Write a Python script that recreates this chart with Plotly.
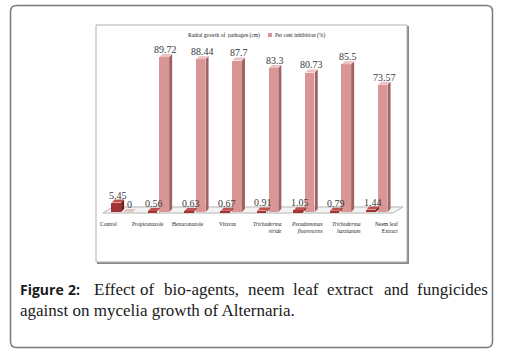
import plotly.graph_objects as go

# ---------------- data ----------------
categories = ["Control", "Propiconazole", "Hexaconazole", "Vitavax",
              "<i>Trichoderma</i><br><i>viride</i>",
              "<i>Pseudomonas</i><br><i>fluorescens</i>",
              "<i>Trichoderma</i><br><i>harzianum</i>",
              "Neem leaf<br>Extract"]
radial_growth = [5.45, 0.56, 0.63, 0.67, 0.91, 1.05, 0.79, 1.44]
inhibition = [0, 89.72, 88.44, 87.7, 83.3, 80.73, 85.5, 73.57]
series_names = ["Radial growth of&nbsp; pathogen (cm)", "Per cent inhibition (%)"]

W, H = 505, 354
def xp(px): return px / W
def yp(py): return 1 - py / H

# axis geometry (pixel <-> data)
X0PX, XUNIT = 122.2, 36.4          # px of category 0, px per category
Y0PX, YUNIT = 212.0, 1.728         # px of value 0, px per unit
xr = [-0.6, 7.8]
yr = [-3, 99]
xdom = [xp(X0PX + XUNIT * xr[0]), xp(X0PX + XUNIT * xr[1])]
ydom = [yp(Y0PX - YUNIT * yr[0]), yp(Y0PX - YUNIT * yr[1])]

n = len(categories)
bw = 0.26          # bar width (category units)
off = 0.16         # offset of each series from category centre
dx = 3 / XUNIT     # 3-D depth in x
dy = 3 / YUNIT     # 3-D depth in y

styles = [
    dict(front="#a23533", side="#6f1f1d", top="#c0504d"),
    dict(front="#d99694", side="#9f6361", top="#ebc3c2"),
]
series = [radial_growth, inhibition]
offsets = [-off, off]

fig = go.Figure()

for s, (vals, o, st) in enumerate(zip(series, offsets, styles)):
    xs = [i + o for i in range(n)]
    fig.add_trace(go.Bar(x=xs, y=vals, width=bw, marker=dict(color=st["front"], line=dict(width=0)),
                         name=series_names[s], showlegend=False, hoverinfo="skip"))
    sx, sy, tx, ty = [], [], [], []
    for x, v in zip(xs, vals):
        r = x + bw / 2
        l = x - bw / 2
        sx += [r, r + dx, r + dx, r, r, None]
        sy += [0, dy, v + dy, v, 0, None]
        tx += [l, r, r + dx, l + dx, l, None]
        ty += [v, v, v + dy, v + dy, v, None]
    fig.add_trace(go.Scatter(x=sx, y=sy, mode="lines", fill="toself", fillcolor=st["side"],
                             line=dict(width=0), showlegend=False, hoverinfo="skip"))
    fig.add_trace(go.Scatter(x=tx, y=ty, mode="lines", fill="toself", fillcolor=st["top"],
                             line=dict(width=0), showlegend=False, hoverinfo="skip"))

# floor (3-D base)
fl, fr = -0.53, n - 0.56
fshift, fback = 0.27, 2.9
fig.add_shape(type="path", xref="x", yref="y", layer="below",
              path=f"M{fl},-0.6 L{fr},-0.6 L{fr + fshift},{fback} L{fl + fshift},{fback} Z",
              fillcolor="#f3f3f3", line=dict(color="#b5b5b5", width=1))

annotations = []
# value labels
for vals, o in zip(series, offsets):
    for i, v in enumerate(vals):
        annotations.append(dict(x=i + o + dx / 2, y=v + dy, xref="x", yref="y",
                                text=f"{v:g}", showarrow=False, yanchor="bottom",
                                yshift=-3, font=dict(family="Liberation Serif", size=10, color="#3a3a3a")))

# category labels with perspective spread
for i, c in enumerate(categories):
    shift = (-14 + 3.3 * i) / XUNIT
    annotations.append(dict(x=i + shift, y=yp(219), xref="x", yref="paper", text=c,
                            showarrow=False, yanchor="top", align="right",
                            font=dict(family="Liberation Serif", size=5.5, color="#222")))

# legend (manual)
leg = [(181, styles[0]["front"], series_names[0]), (268, styles[1]["front"], series_names[1])]
shapes = []
for px, col, name in leg:
    shapes.append(dict(type="rect", xref="paper", yref="paper", x0=xp(px), x1=xp(px + 4),
                       y0=yp(37), y1=yp(33), fillcolor=col, line=dict(width=0)))
    annotations.append(dict(x=xp(px + 5), y=yp(35), xref="paper", yref="paper", text=name,
                            showarrow=False, xanchor="left", yanchor="middle",
                            font=dict(family="Liberation Serif", size=5.5, color="#222")))

# inner chart frame with shadow
shapes.append(dict(type="rect", xref="paper", yref="paper", x0=xp(97), x1=xp(409), y0=yp(264), y1=yp(26),
                   fillcolor="#8a8a8a", line=dict(width=0), layer="below"))
shapes.append(dict(type="rect", xref="paper", yref="paper", x0=xp(96), x1=xp(407), y0=yp(262), y1=yp(25),
                   fillcolor="white", line=dict(color="#b0b0b0", width=1), layer="below"))

# outer rounded frame
L, T, R, B, rr = 10.5, 5.5, 492.5, 347.5, 6
path = (f"M{xp(L + rr)},{yp(T)} L{xp(R - rr)},{yp(T)} Q{xp(R)},{yp(T)} {xp(R)},{yp(T + rr)} "
        f"L{xp(R)},{yp(B - rr)} Q{xp(R)},{yp(B)} {xp(R - rr)},{yp(B)} "
        f"L{xp(L + rr)},{yp(B)} Q{xp(L)},{yp(B)} {xp(L)},{yp(B - rr)} "
        f"L{xp(L)},{yp(T + rr)} Q{xp(L)},{yp(T)} {xp(L + rr)},{yp(T)} Z")
shapes.append(dict(type="path", xref="paper", yref="paper", path=path,
                   line=dict(color="#7a7a7a", width=1.5), layer="below"))

# caption (justified first line)
cap_font = dict(family="Liberation Serif", size=17, color="#1a1a1a")
line1 = [(18, "<b>Figure</b>", True), (66, "<b>2:</b>", True), (92, "Effect", False), (138, "of", False),
         (162, "bio-agents,", False), (246, "neem", False), (291, "leaf", False), (325, "extract", False),
         (382, "and", False), (415, "fungicides", False)]
for px, word, bold in line1:
    f = dict(family="Open Sans", size=14, color="#1a1a1a") if bold else cap_font
    annotations.append(dict(x=xp(px), y=yp(289), xref="paper", yref="paper", text=word,
                            showarrow=False, xanchor="left", yanchor="middle", font=f))
annotations.append(dict(x=xp(18), y=yp(310), xref="paper", yref="paper",
                        text="against on mycelia growth of Alternaria.", showarrow=False,
                        xanchor="left", yanchor="middle", font=cap_font))

fig.update_layout(
    width=W, height=H, margin=dict(l=0, r=0, t=0, b=0),
    paper_bgcolor="white", plot_bgcolor="rgba(0,0,0,0)",
    barmode="overlay", bargap=0,
    xaxis=dict(domain=xdom, range=xr, visible=False, fixedrange=True),
    yaxis=dict(domain=ydom, range=yr, visible=False, fixedrange=True),
    annotations=annotations, shapes=shapes, showlegend=False,
)

fig.write_html("out.html")
